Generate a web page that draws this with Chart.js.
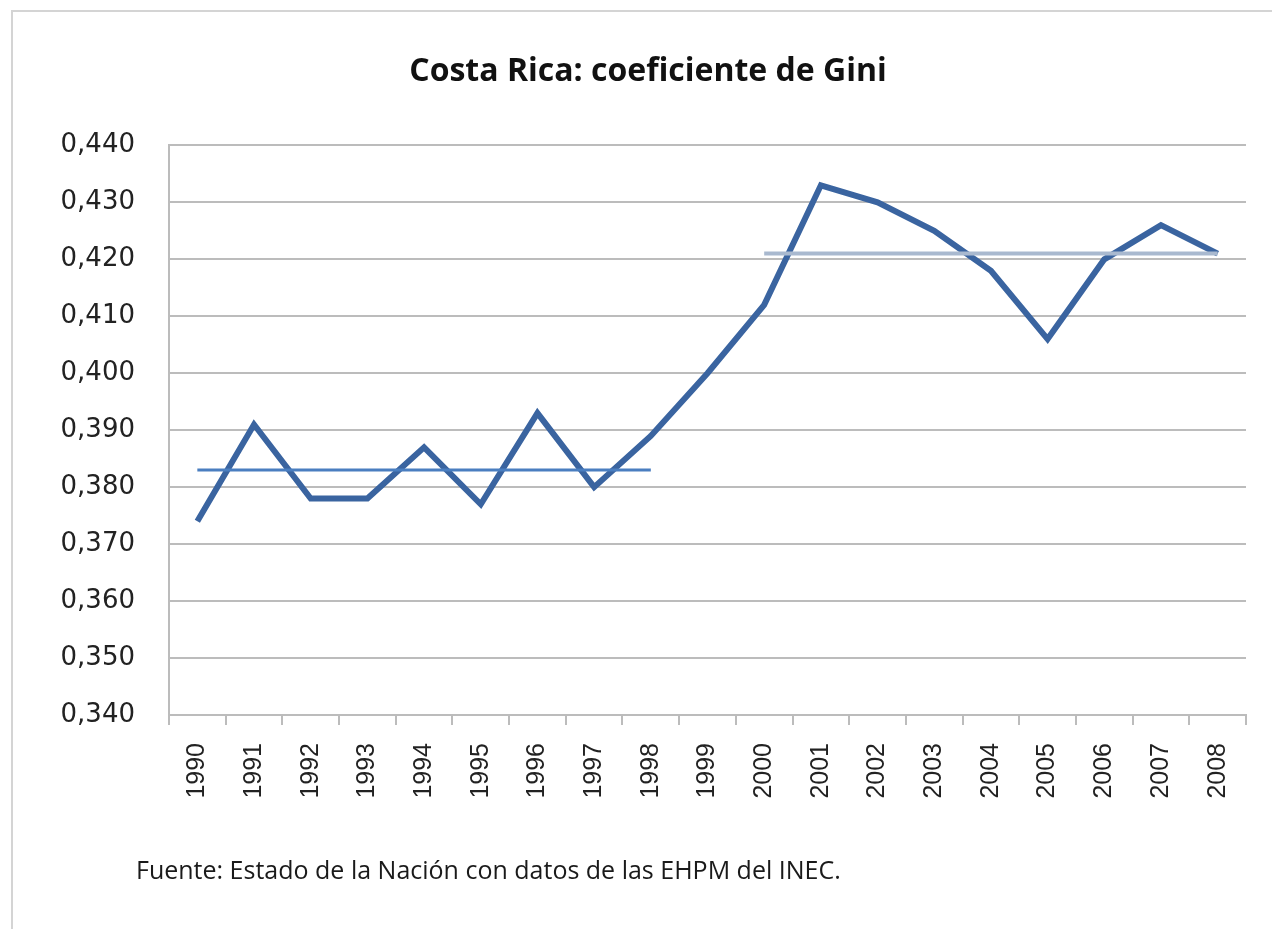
<!DOCTYPE html>
<html>
<head>
<meta charset="utf-8">
<script src="https://cdn.jsdelivr.net/npm/chart.js@4/dist/chart.umd.min.js"></script>
<style>
  body { margin: 0; background: #fff; overflow: hidden; }
  #frame { position: absolute; left: 11px; top: 10px; width: 1300px; height: 960px; border: 2px solid #d4d4d4; box-sizing: border-box; }
  #wrap { position: absolute; left: 0; top: 0; width: 1272px; height: 929px; }
  #fuente { position: absolute; left: 136px; top: 852px; font-family: "Open Sans", sans-serif; font-size: 25px; color: #1a1a1a; white-space: nowrap; }
</style>
</head>
<body>
<div id="frame"></div>
<div id="wrap"><canvas id="giniChart"></canvas></div>
<div id="fuente">Fuente: Estado de la Nación con datos de las EHPM del INEC.</div>
<script>
// Costa Rica: coeficiente de Gini
const years = ["1990", "1991", "1992", "1993", "1994", "1995", "1996", "1997", "1998", "1999",
  "2000", "2001", "2002", "2003", "2004", "2005", "2006", "2007", "2008"];
const gini = [0.374, 0.391, 0.378, 0.378, 0.387, 0.377, 0.393, 0.380, 0.389, 0.400,
  0.412, 0.433, 0.430, 0.425, 0.418, 0.406, 0.420, 0.426, 0.421];
// promedios por periodo
const promedio9098 = [0.383, 0.383, 0.383, 0.383, 0.383, 0.383, 0.383, 0.383, 0.383, null,
  null, null, null, null, null, null, null, null, null];
const promedio0008 = [null, null, null, null, null, null, null, null, null, null,
  0.421, 0.421, 0.421, 0.421, 0.421, 0.421, 0.421, 0.421, 0.421];
const yMin = 0.34, yMax = 0.44, yStep = 0.01;

const canvas = document.getElementById('giniChart');

new Chart(canvas, {
  type: 'line',
  data: {
    labels: years,
    datasets: [
      {
        label: 'Promedio 1990-1998',
        data: promedio9098,
        borderColor: '#4a7ec0',
        borderWidth: 3,
        pointRadius: 0,
        spanGaps: false
      },
      {
        label: 'Promedio 2000-2008',
        data: promedio0008,
        borderColor: '#a9b9cf',
        borderWidth: 4,
        pointRadius: 0,
        spanGaps: false
      },
      {
        label: 'Gini',
        data: gini,
        borderColor: '#3a64a0',
        borderWidth: 6,
        pointRadius: 0,
        borderJoinStyle: 'miter',
        tension: 0
      }
    ]
  },
  options: {
    responsive: true,
    maintainAspectRatio: false,
    animation: false,
    layout: { padding: { left: 50, right: 26, top: 0, bottom: 0 } },
    plugins: {
      legend: { display: false },
      tooltip: { enabled: false },
      title: {
        display: true,
        text: 'Costa Rica: coeficiente de Gini',
        color: '#111',
        font: { family: '"Open Sans", sans-serif', size: 32, weight: 'bold', lineHeight: 1.2 },
        padding: { top: 53, bottom: 54 }
      }
    },
    scales: {
      x: {
        offset: true,
        afterFit: (scale) => { scale.height = 214; },
        grid: {
          display: true,
          offset: true,
          drawOnChartArea: false,
          drawTicks: true,
          tickLength: 10,
          color: '#bcbcbc',
          lineWidth: 2
        },
        border: { display: true, color: '#bcbcbc', width: 2 },
        ticks: {
          maxRotation: 90,
          minRotation: 90,
          autoSkip: false,
          padding: 18,
          color: '#222',
          font: { family: '"Liberation Sans", Arial, sans-serif', size: 25 }
        }
      },
      y: {
        min: yMin,
        max: yMax,
        afterFit: (scale) => { scale.width = 119; },
        grid: { color: '#bcbcbc', lineWidth: 2, drawTicks: false },
        border: { display: true, color: '#bcbcbc', width: 2 },
        ticks: {
          stepSize: yStep,
          padding: 34,
          color: '#222',
          font: { family: '"DejaVu Sans", sans-serif', size: 26 },
          callback: (v) => (Math.round(v * 1000) / 1000).toFixed(3).replace('.', ',')
        }
      }
    }
  }
});
</script>
</body>
</html>
